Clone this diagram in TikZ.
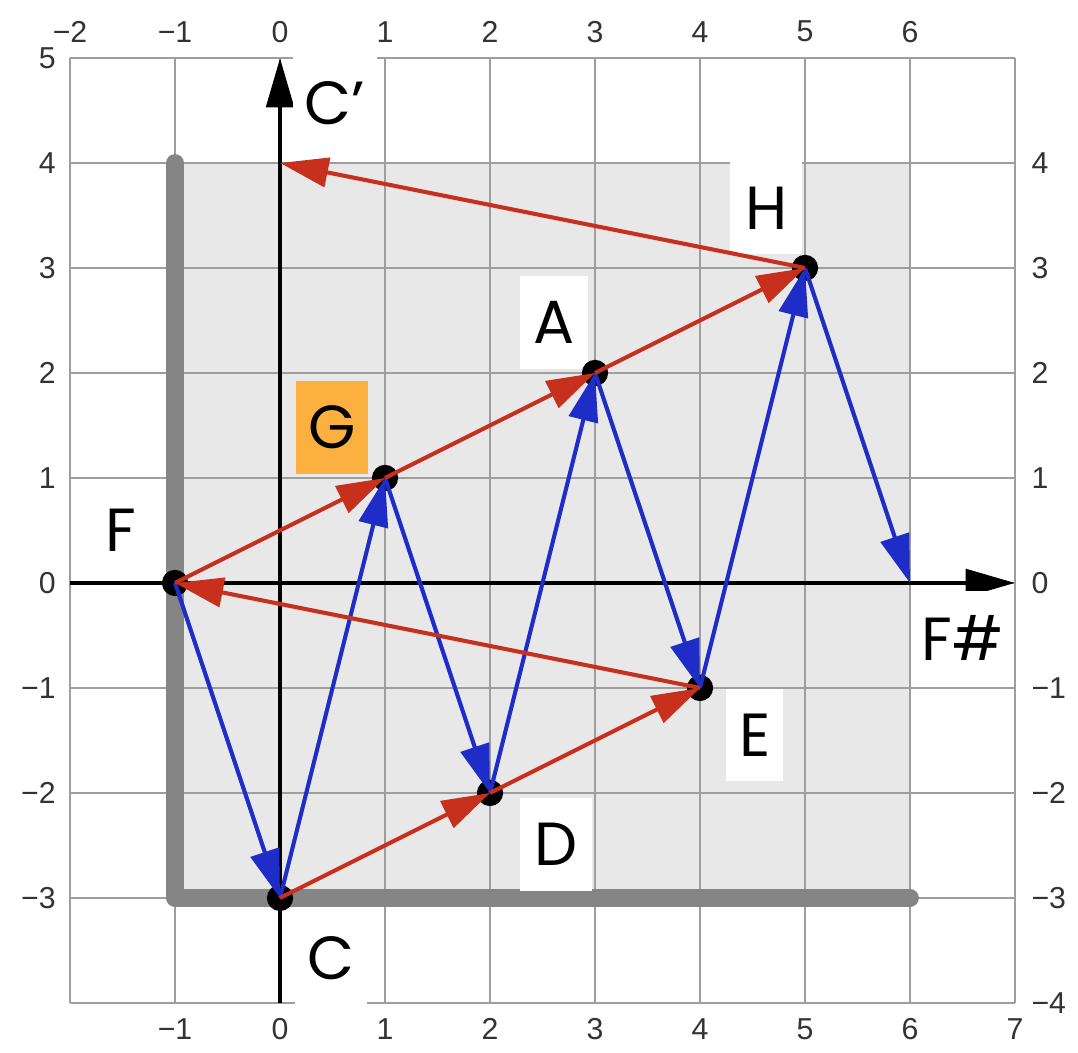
\documentclass[tikz,border=0pt]{standalone}
\usepackage{fontspec}
\setmainfont{Liberation Sans}
\newfontfamily\notefont{Poppins}
\usetikzlibrary{arrows.meta}
\definecolor{panegray}{HTML}{E8E8E8}
\definecolor{wallgray}{HTML}{858585}
\definecolor{arrowred}{HTML}{C8301E}
\definecolor{arrowblue}{HTML}{1E2DC8}
\definecolor{tagorange}{HTML}{FBB040}
\newcommand{\signed}[1]{\ifnum#1<0 −\number\numexpr-#1\relax\else#1\fi}

\begin{document}
\begin{tikzpicture}[
    >={Triangle[length=4.6mm,width=2.8mm]},
    grid/.style={black!38, line width=0.6pt},
    wall/.style={wallgray, line width=4.8pt, line cap=round, line join=round},
    axis/.style={->, line width=1.2pt, >={Triangle[length=4.7mm,width=2.6mm]}},
    tick/.style={text=black!80, font=\fontsize{8.2}{10}\selectfont, inner sep=0pt},
    dot/.style={circle, fill=black, minimum size=2.5mm, inner sep=0pt},
    tag/.style={
        fill=white,
        minimum width=6.8mm,
        minimum height=8.8mm,
        inner sep=0pt,
        font=\notefont\fontsize{16.5}{18}\selectfont
    },
    redarrow/.style={->, arrowred, line width=1.1pt},
    bluearrow/.style={->, arrowblue, line width=1.1pt}
]
\useasboundingbox (-2.667,-4.476) rectangle (7.6,5.552);

% Background and grid
\fill[panegray] (-1,-3) rectangle (6,4);
\draw[grid] (-2,-4) grid (7,5);
\draw[wall] (-1,4) -- (-1,-3) -- (6,-3);

% Tick labels
\foreach \x in {-2,...,6}
    \node[tick] at (\x,5.25) {\signed{\x}};
\foreach \x in {-1,...,7}
    \node[tick] at (\x,-4.25) {\signed{\x}};
\foreach \y in {-3,...,5}
    \node[tick, anchor=east] at (-2.13,\y) {\signed{\y}};
\foreach \y in {-4,...,4}
    \node[tick, anchor=west] at (7.15,\y) {\signed{\y}};

% Axes
\draw[axis] (-2,0) -- (7,0);
\draw[axis] (0,-4) -- (0,5);

% Labels
\node[tag, minimum width=8mm] (labCp) at (0.524,4.571) {C’};
\node[tag] (labH) at (4.63,3.57) {H};
\node[tag, minimum width=6.4mm] (labA) at (2.61,2.48) {A};
\node[tag, fill=tagorange] (labG) at (0.495,1.48) {G};
\node[tag] (labF) at (-1.52,0.5) {F};
\node[tag, minimum width=9.5mm] (labFs) at (6.5,-0.52) {F\#};
\node[tag, minimum width=5.5mm] (labE) at (4.52,-1.45) {E};
\node[tag] (labD) at (2.63,-2.49) {D};
\node[tag] (labC) at (0.486,-3.57) {C};

% Nodes
\node[dot] (F) at (-1,0) {};
\node[dot] (C) at (0,-3) {};
\node[dot] (G) at (1,1) {};
\node[dot] (D) at (2,-2) {};
\node[dot] (A) at (3,2) {};
\node[dot] (E) at (4,-1) {};
\node[dot] (H) at (5,3) {};
\coordinate (Fs) at (6,0);
\coordinate (Cp) at (0,4);

% Blue zigzag
\draw[bluearrow] (F.center) -- (C.center);
\draw[bluearrow] (C.center) -- (G.center);
\draw[bluearrow] (G.center) -- (D.center);
\draw[bluearrow] (D.center) -- (A.center);
\draw[bluearrow] (A.center) -- (E.center);
\draw[bluearrow] (E.center) -- (H.center);
\draw[bluearrow] (H.center) -- (Fs);

% Red steps
\draw[redarrow] (C.center) -- (D.center);
\draw[redarrow] (D.center) -- (E.center);
\draw[redarrow] (E.center) -- (F.center);
\draw[redarrow] (F.center) -- (G.center);
\draw[redarrow] (G.center) -- (A.center);
\draw[redarrow] (A.center) -- (H.center);
\draw[redarrow] (H.center) -- (Cp);

\end{tikzpicture}
\end{document}
